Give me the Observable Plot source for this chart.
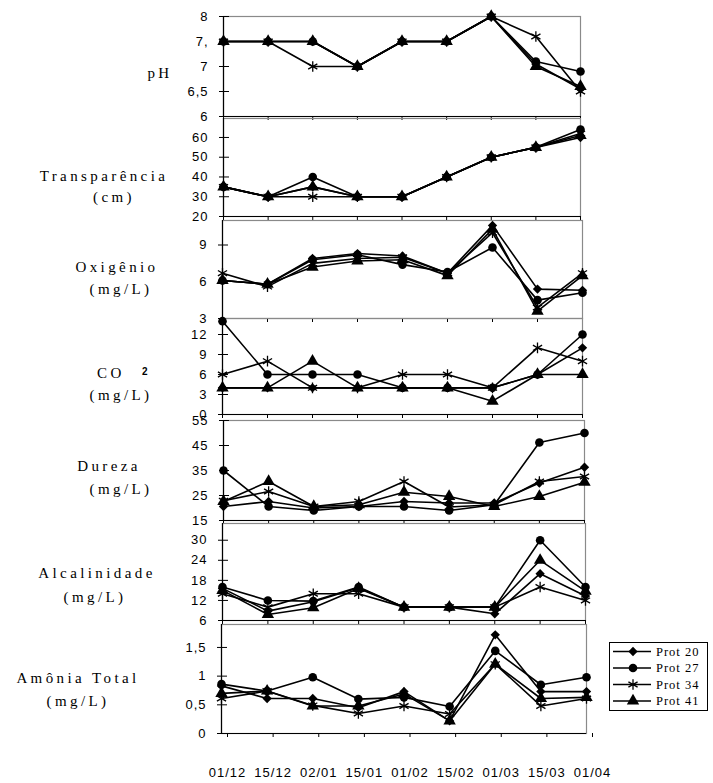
<!DOCTYPE html>
<html><head><meta charset="utf-8">
<script src="https://cdn.jsdelivr.net/npm/d3@7"></script>
<script src="https://cdn.jsdelivr.net/npm/@observablehq/plot@0.6"></script>
<style>
body{margin:0;background:#fff;}
#c{position:relative;width:713px;height:783px;overflow:hidden;background:#fff;}
.t{position:absolute;font-family:"Liberation Serif","Times New Roman",serif;font-size:15px;letter-spacing:3.4px;white-space:nowrap;transform:translate(-50%,-50%);color:#000;line-height:1;}
#c svg{position:absolute;left:0;}
</style></head><body><div id="c"></div>
<script>
const dates = ["01/12","15/12","02/01","15/01","01/02","15/02","01/03","15/03","01/04"];
const seriesNames = ["Prot 20","Prot 27","Prot 34","Prot 41"];

const ph20 = [7.5,7.5,7.5,7.0,7.5,7.5,8.0,7.05,6.55];
const ph27 = [7.5,7.5,7.5,7.0,7.5,7.5,8.0,7.1,6.9];
const ph34 = [7.5,7.5,7.0,7.0,7.5,7.5,8.0,7.6,6.5];
const ph41 = [7.5,7.5,7.5,7.0,7.5,7.5,8.0,7.0,6.6];

const tr20 = [35,30,35,30,30,40,50,55,60];
const tr27 = [35,30,40,30,30,40,50,55,64];
const tr34 = [35,30,30,30,30,40,50,55,62];
const tr41 = [35,30,35,30,30,40,50,55,61];

const ox20 = [6.1,5.8,7.9,8.3,8.1,6.7,10.6,5.4,5.3];
const ox27 = [6.1,5.8,7.8,8.2,7.4,6.8,8.8,4.5,5.1];
const ox34 = [6.7,5.6,7.5,7.9,8.0,6.7,10.0,3.9,6.7];
const ox41 = [6.1,5.8,7.2,7.7,7.8,6.5,10.3,3.6,6.5];

const co20 = [4,4,4,4,4,4,4,6,10];
const co27 = [14,6,6,6,4,4,4,6,12];
const co34 = [6,8,4,4,6,6,4,10,8];
const co41 = [4,4,8,4,4,4,2,6,6];

const du20 = [20.6,22.6,20,20.6,22.6,22,22,30,36.3];
const du27 = [35,20.6,19,20.6,20.6,19,21.3,46.2,50];
const du34 = [22.9,26.6,20.6,22.6,30.6,20.4,21.3,30.6,32.6];
const du41 = [22.6,30.6,20.6,21.3,26.3,24.6,20.6,24.6,30.3];

const al20 = [15.6,8.8,11.6,15.8,10,10,8,20,13.3];
const al27 = [16,12,11.8,16,10,10,10,30,16];
const al34 = [14,10,14,14,10,10,10,16,12];
const al41 = [15,7.8,9.8,15.6,10,10,10,24,14.8];

const am20 = [0.83,0.61,0.61,0.45,0.73,0.22,1.72,0.73,0.73];
const am27 = [0.86,0.74,0.98,0.6,0.63,0.47,1.44,0.85,0.98];
const am34 = [0.61,0.74,0.49,0.35,0.48,0.34,1.21,0.48,0.61];
const am41 = [0.70,0.74,0.48,0.48,0.69,0.22,1.21,0.61,0.63];

const phTicks = [6,6.5,7,7.5,8], phLabels = ["6","6,5","7","7,","8"];
const trTicks = [20,30,40,50,60];
const oxTicks = [3,6,9];
const coTicks = [0,3,6,9,12];
const duTicks = [15,25,35,45,55];
const alTicks = [6,12,18,24,30];
const amTicks = [0,0.5,1,1.5], amLabels = ["0","0,5","1","1,5"];

const symbols = [
  {symbol:"diamond2", fill:"black", r:4.2},
  {symbol:"circle", fill:"black", r:4.3},
  {symbol:"asterisk", fill:"none", stroke:"black", strokeWidth:1.3, r:5},
  {symbol:"triangle", fill:"black", r:4.6}
];

const panels = [
  {top:16, bottom:116, left:223, right:580, domain:[6,8], ticks:phTicks, labels:phLabels, s:[ph20,ph27,ph34,ph41]},
  {top:118, bottom:216, left:223, right:580, domain:[20,69.6], ticks:trTicks, s:[tr20,tr27,tr34,tr41]},
  {top:220, bottom:318, left:222, right:582, domain:[3,11], ticks:oxTicks, s:[ox20,ox27,ox34,ox41]},
  {top:318, bottom:414, left:222, right:582, domain:[0,14.4], ticks:coTicks, s:[co20,co27,co34,co41]},
  {top:420, bottom:520, left:223, right:584, domain:[15,55], ticks:duTicks, s:[du20,du27,du34,du41]},
  {top:523, bottom:620, left:222, right:585, domain:[6,35], ticks:alTicks, s:[al20,al27,al34,al41]},
  {top:624, bottom:733, left:221, right:586, domain:[0,1.9], ticks:amTicks, labels:amLabels, s:[am20,am27,am34,am41], last:true}
];

const c = document.getElementById("c");
const W = 713;

panels.forEach(p => {
  const mt = 6, mb = p.last ? 50 : 8;
  const h = mt + (p.bottom - p.top) + mb;
  const pxPerX = (p.right - p.left) / 8;
  const rows = [];
  p.s.forEach((arr, k) => arr.forEach((v, i) => rows.push({i, v, s: seriesNames[k]})));
  const marks = [
    Plot.frame({stroke:"#8a8a8a", strokeWidth:1.2}),
    Plot.ruleX([0], {stroke:"black", strokeWidth:1.2}),
    Plot.ruleY([p.domain[0]], {stroke:"black", strokeWidth:1.2}),
    Plot.ruleY(p.ticks, {y: d => d, x1: -4/pxPerX, x2: 6/pxPerX, stroke:"black", strokeWidth:1}),
    Plot.axisY({ticks: p.ticks, tickSize: 0, tickPadding: 15, label: null,
      tickFormat: p.labels ? (d => p.labels[p.ticks.indexOf(d)]) : (d => String(d)),
      fontSize: 13}),
    Plot.axisX({ticks: d3.range(9), tickSize: 4, tickPadding: p.last ? 30 : 0, label: null,
      tickFormat: p.last ? (i => dates[i]) : (() => ""), fontSize: 13, dx: p.last ? 6 : 0}),
    Plot.line(rows, {x:"i", y:"v", z:"s", stroke:"black", strokeWidth:1.6})
  ];
  p.s.forEach((arr, k) => {
    const sy = symbols[k];
    marks.push(Plot.dot(rows.filter(r => r.s === seriesNames[k]), {x:"i", y:"v", ...sy}));
  });
  const svg = Plot.plot({
    width: W, height: h,
    marginLeft: p.left, marginRight: W - p.right, marginTop: mt, marginBottom: mb,
    x: {domain:[0,8], axis:null, label:null},
    y: {domain:p.domain, axis:null, label:null},
    style: {background:"transparent", overflow:"visible", fontFamily:"'Liberation Sans', Arial, sans-serif", letterSpacing:"1px", color:"black"},
    marks
  });
  svg.style.top = (p.top - mt) + "px";
  c.appendChild(svg);
});

// y titles
const titles = [
  ["pH", 160, 73],
  ["Transparência", 104, 176], ["(cm)", 114, 197],
  ["Oxigênio", 117, 267], ["(mg/L)", 121, 289],
  ["(mg/L)", 121, 395],
  ["Dureza", 109, 466], ["(mg/L)", 121, 489],
  ["Alcalinidade", 97, 573], ["(mg/L)", 95, 597],
  ["Amônia Total", 78, 678], ["(mg/L)", 78, 701]
];
titles.forEach(([t, x, y]) => {
  const d = document.createElement("div");
  d.className = "t"; d.textContent = t;
  d.style.left = x + "px"; d.style.top = y + "px";
  c.appendChild(d);
});
const co = document.createElement("div");
co.className = "t"; co.style.left = "124px"; co.style.top = "373px";
co.innerHTML = 'CO <sup style="font-family:\'Liberation Sans\',Arial;font-size:10px;font-weight:bold;position:relative;top:-3px;vertical-align:baseline;margin-left:10px">2</sup>';
c.appendChild(co);

// legend
const lg = d3.create("svg").attr("width", 100).attr("height", 70)
  .style("top", "642px").style("left", "609px");
lg.append("rect").attr("x", 0.5).attr("y", 0.5).attr("width", 98).attr("height", 68)
  .attr("fill", "white").attr("stroke", "black");
const symGen = {diamond2: d3.symbolDiamond2, circle: d3.symbolCircle, asterisk: d3.symbolAsterisk, triangle: d3.symbolTriangle};
seriesNames.forEach((n, k) => {
  const y = 9.5 + k * 16.5;
  lg.append("line").attr("x1", 4).attr("x2", 42).attr("y1", y).attr("y2", y).attr("stroke", "black").attr("stroke-width", 1.6);
  const sy = symbols[k];
  lg.append("path").attr("transform", `translate(24,${y})`)
    .attr("d", d3.symbol(symGen[sy.symbol], Math.PI * sy.r * sy.r)())
    .attr("fill", sy.fill).attr("stroke", sy.stroke || "none").attr("stroke-width", sy.strokeWidth || 0);
  lg.append("text").attr("x", 47).attr("y", y + 4).attr("font-family", "'Liberation Serif', serif")
    .attr("font-size", 12.5).attr("letter-spacing", "1px").text(n);
});
c.appendChild(lg.node());
</script></body></html>
